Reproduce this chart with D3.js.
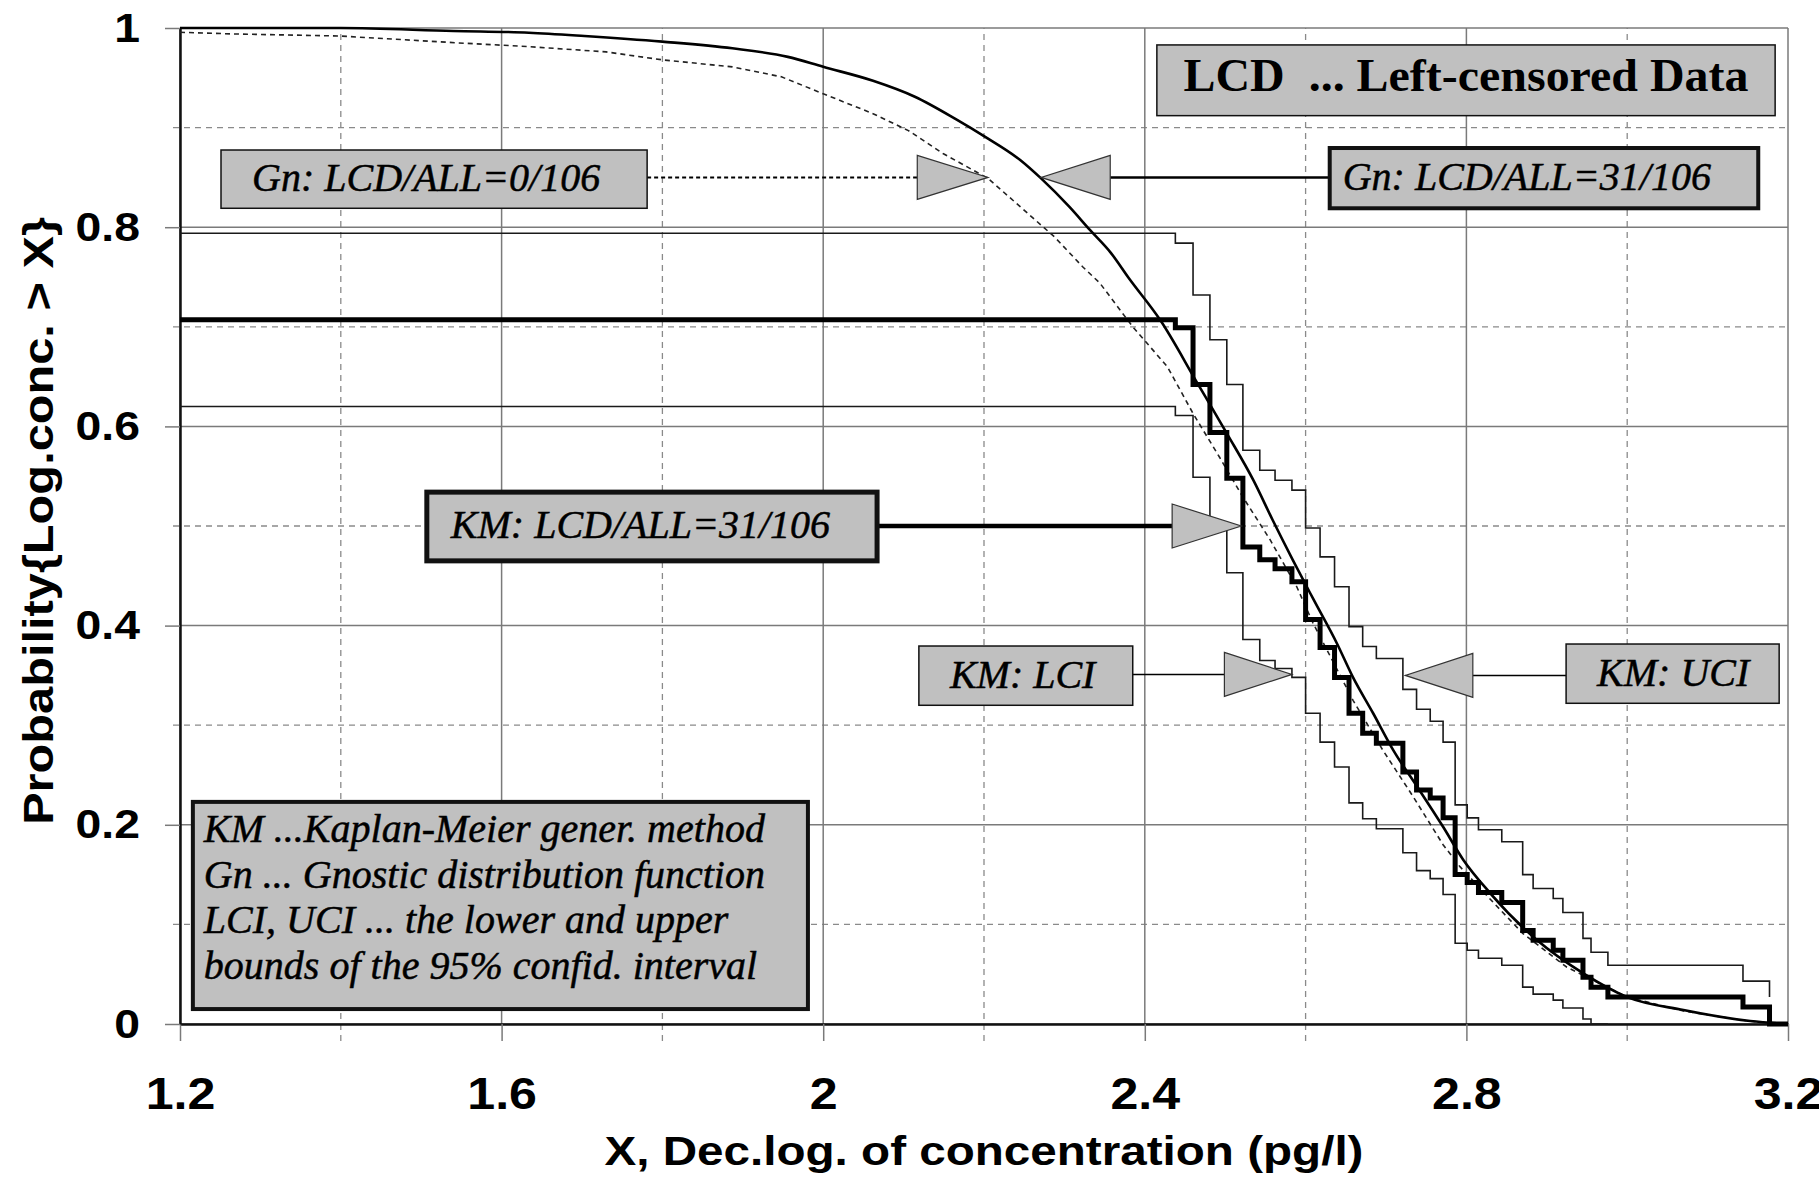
<!DOCTYPE html>
<html><head><meta charset="utf-8">
<script src="https://cdn.jsdelivr.net/npm/d3@7"></script>
<style>
html,body{margin:0;padding:0;background:#fff;}
svg{display:block;}
</style></head>
<body>
<svg id="chart" width="1819" height="1178"></svg>
<script>
// ---------- data ----------
const xTicks = [1.2, 1.6, 2, 2.4, 2.8, 3.2];
const yTicks = [0, 0.2, 0.4, 0.6, 0.8, 1];
const xMinorGrid = [1.4, 1.8, 2.2, 2.6, 3.0];
const yMinorGrid = [0.1, 0.3, 0.5, 0.7, 0.9];

// Gnostic distribution function, LCD/ALL = 31/106 (solid)
const gnLcdX = [1.2, 1.4, 1.54, 1.634, 1.703, 1.8, 1.887, 1.956, 2.0, 2.062, 2.114, 2.166, 2.201, 2.245, 2.271, 2.306, 2.332, 2.358, 2.38, 2.419, 2.465, 2.502, 2.535, 2.559, 2.584, 2.61, 2.639, 2.659, 2.684, 2.709, 2.739, 2.771, 2.796, 2.83, 2.888, 2.945, 3.0, 3.07, 3.153, 3.2];
const gnLcdY = [1.0, 1.0, 0.997, 0.9953, 0.992, 0.9863, 0.9796, 0.971, 0.961, 0.947, 0.931, 0.908, 0.891, 0.8675, 0.849, 0.8206, 0.797, 0.774, 0.749, 0.707, 0.644, 0.593, 0.546, 0.506, 0.466, 0.426, 0.382, 0.348, 0.312, 0.275, 0.238, 0.198, 0.165, 0.131, 0.084, 0.051, 0.027, 0.014, 0.003, 0.0];

// Gnostic distribution function, LCD/ALL = 0/106 (dashed)
const gnAllX = [1.2, 1.267, 1.398, 1.547, 1.634, 1.73, 1.8, 1.887, 1.948, 2.0, 2.062, 2.106, 2.149, 2.205, 2.245, 2.288, 2.323, 2.344, 2.385, 2.428, 2.46, 2.493, 2.522, 2.556, 2.589, 2.609, 2.659, 2.696, 2.734, 2.771, 2.792, 2.83, 2.87, 2.925, 3.0, 3.07, 3.15, 3.2];
const gnAllY = [0.9957, 0.994, 0.992, 0.985, 0.9813, 0.976, 0.968, 0.961, 0.951, 0.934, 0.914, 0.897, 0.874, 0.849, 0.8206, 0.79, 0.76, 0.744, 0.7, 0.66, 0.613, 0.569, 0.529, 0.486, 0.439, 0.403, 0.325, 0.275, 0.228, 0.18, 0.158, 0.125, 0.091, 0.057, 0.027, 0.013, 0.003, 0.0];

// Kaplan-Meier step positions (shared)
const stepX = [2.438, 2.46, 2.481, 2.502, 2.522, 2.543, 2.562, 2.583, 2.6, 2.618, 2.636, 2.654, 2.671, 2.688, 2.721, 2.738, 2.755, 2.771, 2.786, 2.801, 2.815, 2.844, 2.87, 2.883, 2.908, 2.92, 2.945, 2.955, 2.976, 3.144, 3.177];
// value before first step, then value after each step
const kmY  = [0.707, 0.699, 0.642, 0.594, 0.548, 0.479, 0.466, 0.457, 0.444, 0.406, 0.378, 0.348, 0.312, 0.292, 0.282, 0.253, 0.235, 0.227, 0.207, 0.150, 0.142, 0.132, 0.122, 0.094, 0.084, 0.074, 0.064, 0.047, 0.037, 0.027, 0.017, 0.0];
const lciY = [0.620, 0.611, 0.549, 0.499, 0.453, 0.386, 0.365, 0.357, 0.348, 0.312, 0.283, 0.258, 0.222, 0.206, 0.196, 0.172, 0.154, 0.146, 0.130, 0.081, 0.074, 0.066, 0.059, 0.037, 0.030, 0.024, 0.016, 0.005, 0.0];
const uciY = [0.794, 0.784, 0.732, 0.687, 0.642, 0.576, 0.556, 0.546, 0.536, 0.498, 0.469, 0.439, 0.399, 0.379, 0.367, 0.336, 0.316, 0.304, 0.283, 0.220, 0.207, 0.195, 0.183, 0.150, 0.136, 0.126, 0.112, 0.086, 0.072, 0.059, 0.043, 0.027];
const kmEnd = 3.2, lciEnd = 2.976, uciEnd = 3.177;

const xTitle = "X, Dec.log. of concentration (pg/l)";
const yTitle = "Probability{Log.conc. > X}";
const headerText = "LCD  ... Left-censored Data";
const legendLines = ["KM ...Kaplan-Meier gener. method", "Gn ... Gnostic distribution function", "LCI, UCI ... the lower and upper", "bounds of the 95% confid. interval"];

// annotation boxes (data units) with pointer arrows
const notes = [
  {text: "Gn: LCD/ALL=0/106", box: [1.251, 1.781, 0.8775, 0.819], tip: [2.205, 0.85], base: 2.117, kind: "gnAll"},
  {text: "Gn: LCD/ALL=31/106", box: [2.630, 3.163, 0.8795, 0.819], tip: [2.271, 0.85], base: 2.357, kind: "gnLcd"},
  {text: "KM: LCD/ALL=31/106", box: [1.507, 2.067, 0.534, 0.465], tip: [2.520, 0.5], base: 2.434, kind: "km"},
  {text: "KM: LCI", box: [2.119, 2.385, 0.3795, 0.320], tip: [2.583, 0.351], base: 2.499, kind: "ci"},
  {text: "KM: UCI", box: [2.924, 3.189, 0.3815, 0.322], tip: [2.724, 0.350], base: 2.808, kind: "ci"}
];
const headerBox = [2.415, 3.184, 0.983, 0.912];
const legendBox = [1.216, 1.981, 0.223, 0.015];

// ---------- styles ----------
const styles = {
  gnAll: {leaderW: 2, leaderDash: "4,3", borderW: 1.5},
  gnLcd: {leaderW: 2.5, leaderDash: null, borderW: 4},
  km:    {leaderW: 4.5, leaderDash: null, borderW: 5},
  ci:    {leaderW: 1.5, leaderDash: null, borderW: 1.5}
};
const SANS = "'Liberation Sans', Arial, sans-serif";
const SERIF = "'Liberation Serif', 'Times New Roman', serif";
const BOXFILL = "#c0c0c0";

// ---------- chart ----------
const svg = d3.select("#chart");
const x = d3.scaleLinear().domain([1.2, 3.2]).range([180, 1788]);
const y = d3.scaleLinear().domain([0, 1]).range([1024, 28]);

const grid = svg.append("g");
grid.selectAll(".vmin").data(xMinorGrid).join("line")
  .attr("x1", d => x(d)).attr("x2", d => x(d))
  .attr("y1", y(0) + 17).attr("y2", y(1))
  .attr("stroke", "#8a8a8a").attr("stroke-width", 1.3).attr("stroke-dasharray", "6,5");
grid.selectAll(".hmin").data(yMinorGrid).join("line")
  .attr("x1", x(1.2) - 7).attr("x2", x(3.2))
  .attr("y1", d => y(d)).attr("y2", d => y(d))
  .attr("stroke", "#8a8a8a").attr("stroke-width", 1.3).attr("stroke-dasharray", "6,5");
grid.selectAll(".vmaj").data(xTicks).join("line")
  .attr("x1", d => x(d)).attr("x2", d => x(d))
  .attr("y1", y(0)).attr("y2", y(1))
  .attr("stroke", "#7a7a7a").attr("stroke-width", 1.5);
grid.selectAll(".hmaj").data(yTicks).join("line")
  .attr("x1", x(1.2)).attr("x2", x(3.2))
  .attr("y1", d => y(d)).attr("y2", d => y(d))
  .attr("stroke", "#7a7a7a").attr("stroke-width", 1.5);

// axes
const xAxis = d3.axisBottom(x).tickValues(xTicks).tickSize(17).tickSizeOuter(0).tickPadding(37).tickFormat(d => String(d));
const yAxis = d3.axisLeft(y).tickValues(yTicks).tickSize(15).tickSizeOuter(0).tickPadding(25).tickFormat(d => String(d));
const gx = svg.append("g").attr("transform", `translate(0,${y(0)})`).call(xAxis);
const gy = svg.append("g").attr("transform", `translate(${x(1.2)},0)`).call(yAxis);
[gx, gy].forEach(g => {
  g.select(".domain").attr("stroke", "#111").attr("stroke-width", 2.5);
  g.selectAll(".tick line").attr("stroke", "#7a7a7a").attr("stroke-width", 1.5);
  g.selectAll(".tick text").attr("font-family", SANS).attr("font-weight", "bold").attr("fill", "#000");
});
gx.selectAll(".tick text").attr("font-size", 44).attr("data-stretch", 1.14);
gy.selectAll(".tick text").attr("font-size", 41).attr("data-stretch", 1.13);

// curves
const line = d3.line().x(d => x(d[0])).y(d => y(d[1]));
const stepLine = d3.line().x(d => x(d[0])).y(d => y(d[1])).curve(d3.curveStepAfter);
function stepPoints(ys, endX) {
  const pts = [[1.2, ys[0]]];
  for (let i = 1; i < ys.length; i++) pts.push([stepX[i - 1], ys[i]]);
  if (endX > pts[pts.length - 1][0]) pts.push([endX, ys[ys.length - 1]]);
  return pts;
}
const plot = svg.append("g");
plot.append("path").attr("d", stepLine(stepPoints(lciY, lciEnd)))
  .attr("fill", "none").attr("stroke", "#1a1a1a").attr("stroke-width", 1.6);
plot.append("path").attr("d", stepLine(stepPoints(uciY, uciEnd)))
  .attr("fill", "none").attr("stroke", "#1a1a1a").attr("stroke-width", 1.6);
plot.append("path").attr("d", line(gnAllX.map((v, i) => [v, gnAllY[i]])))
  .attr("fill", "none").attr("stroke", "#222").attr("stroke-width", 1.6).attr("stroke-dasharray", "5,4");
plot.append("path").attr("d", line.curve(d3.curveMonotoneX)(gnLcdX.map((v, i) => [v, gnLcdY[i]])))
  .attr("fill", "none").attr("stroke", "#000").attr("stroke-width", 2.6);
plot.append("path").attr("d", stepLine(stepPoints(kmY, kmEnd)))
  .attr("fill", "none").attr("stroke", "#000").attr("stroke-width", 5).attr("stroke-linejoin", "miter");

// annotations
const ann = svg.append("g");
function boxRect(b, bw) {
  ann.append("rect")
    .attr("x", x(b[0])).attr("y", y(b[2]))
    .attr("width", x(b[1]) - x(b[0])).attr("height", y(b[3]) - y(b[2]))
    .attr("fill", BOXFILL).attr("stroke", "#111").attr("stroke-width", bw);
}
function serifText(sel) {
  return sel.attr("font-family", SERIF).attr("font-style", "italic").attr("font-size", 40)
    .attr("fill", "#000").attr("stroke", "#000").attr("stroke-width", 0.5);
}
notes.forEach(n => {
  const st = styles[n.kind];
  const ty = y(n.tip[1]);
  const tx = x(n.tip[0]);
  const bx = x(n.base);
  const dir = bx < tx ? 1 : -1;
  const boxEdge = dir === 1 ? x(n.box[1]) : x(n.box[0]);
  ann.append("line").attr("x1", boxEdge).attr("x2", bx).attr("y1", ty).attr("y2", ty)
    .attr("stroke", "#000").attr("stroke-width", st.leaderW)
    .attr("stroke-dasharray", st.leaderDash);
  ann.append("path")
    .attr("d", `M${bx},${ty - 22}L${tx},${ty}L${bx},${ty + 22}Z`)
    .attr("fill", BOXFILL).attr("stroke", "#333").attr("stroke-width", 1.2);
  boxRect(n.box, st.borderW);
  const cy = (y(n.box[2]) + y(n.box[3])) / 2;
  const pad = n.kind === "gnLcd" ? 13 : (n.kind === "km" ? 24 : 31);
  serifText(ann.append("text").attr("x", x(n.box[0]) + pad).attr("y", cy + 12)).text(n.text);
});

// header box
boxRect(headerBox, 1.5);
ann.append("text")
  .attr("x", (x(headerBox[0]) + x(headerBox[1])) / 2)
  .attr("y", (y(headerBox[2]) + y(headerBox[3])) / 2 + 11)
  .attr("text-anchor", "middle").style("white-space", "pre")
  .attr("font-family", SERIF).attr("font-weight", "bold").attr("font-size", 46)
  .attr("textLength", 565).attr("lengthAdjust", "spacingAndGlyphs")
  .attr("fill", "#000").text(headerText);

// legend box
boxRect(legendBox, 4);
legendLines.forEach((t, i) => {
  serifText(ann.append("text").attr("x", x(legendBox[0]) + 11).attr("y", y(legendBox[2]) + 40 + i * 45.7)).text(t);
});

// axis titles
svg.append("text").attr("x", (x(1.2) + x(3.2)) / 2).attr("y", 1165)
  .attr("text-anchor", "middle").attr("font-family", SANS).attr("font-weight", "bold")
  .attr("font-size", 40).attr("fill", "#000").attr("data-stretch", 1.19).text(xTitle);
svg.append("text").attr("transform", `translate(53,${(y(0) + y(1)) / 2 - 5}) rotate(-90)`)
  .attr("text-anchor", "middle").attr("font-family", SANS).attr("font-weight", "bold")
  .attr("font-size", 42).attr("fill", "#000").attr("data-stretch", 1.16).text(yTitle);

// horizontal stretch of sans text to match the original proportions
svg.selectAll("text[data-stretch]").each(function () {
  const len = this.getComputedTextLength();
  const k = +this.getAttribute("data-stretch");
  d3.select(this).attr("textLength", len * k).attr("lengthAdjust", "spacingAndGlyphs");
});
</script>
</body></html>
